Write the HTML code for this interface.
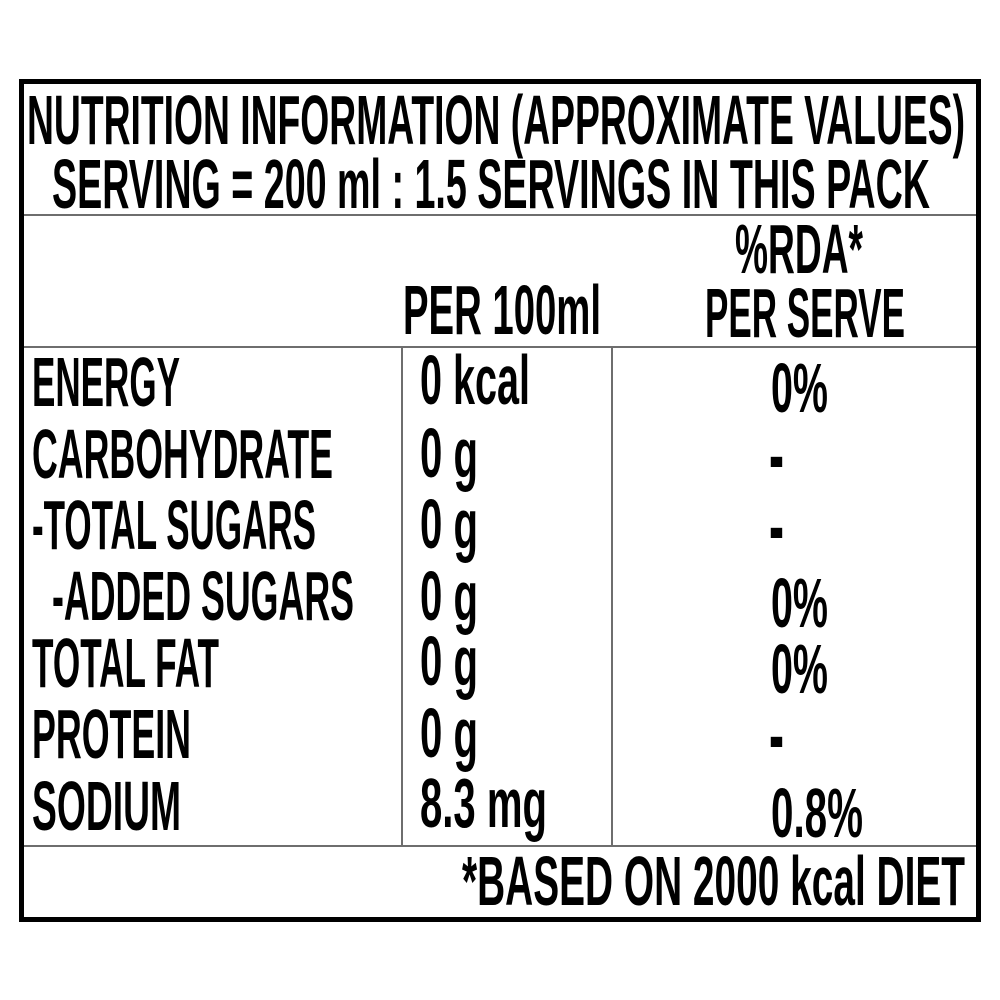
<!DOCTYPE html>
<html>
<head>
<meta charset="utf-8">
<style>
html,body{margin:0;padding:0;background:#fff;}
svg{display:block;}
text{font-family:"Liberation Sans Narrow","Liberation Sans",sans-serif;font-weight:bold;font-size:70px;fill:#000;}
text.h{font-size:85px;}
</style>
</head>
<body>
<svg width="1000" height="1000" viewBox="0 0 1000 1000" xmlns="http://www.w3.org/2000/svg">
<rect x="0" y="0" width="1000" height="1000" fill="#fff"/>
<g stroke="#6e6e6e" stroke-width="2" fill="none">
<line x1="24" y1="215" x2="976" y2="215"/>
<line x1="24" y1="347" x2="976" y2="347"/>
<line x1="24" y1="846" x2="976" y2="846"/>
<line x1="402" y1="347" x2="402" y2="846"/>
<line x1="612" y1="347" x2="612" y2="846"/>
</g>
<rect x="21.5" y="81.5" width="957" height="838" fill="none" stroke="#000" stroke-width="5"/>

<text x="27" y="144" textLength="938" lengthAdjust="spacingAndGlyphs">NUTRITION INFORMATION (APPROXIMATE VALUES)</text>
<text x="52" y="208" textLength="878" lengthAdjust="spacingAndGlyphs">SERVING = 200 ml : 1.5 SERVINGS IN THIS PACK</text>

<text x="735" y="273" textLength="128" lengthAdjust="spacingAndGlyphs">%RDA*</text>
<text x="403" y="334" textLength="198" lengthAdjust="spacingAndGlyphs">PER 100ml</text>
<text x="705" y="337" textLength="200" lengthAdjust="spacingAndGlyphs">PER SERVE</text>

<text x="32" y="406" textLength="148" lengthAdjust="spacingAndGlyphs">ENERGY</text>
<text x="32" y="478" textLength="301" lengthAdjust="spacingAndGlyphs">CARBOHYDRATE</text>
<text x="32" y="549" textLength="284" lengthAdjust="spacingAndGlyphs">-TOTAL SUGARS</text>
<text x="52" y="620" textLength="302" lengthAdjust="spacingAndGlyphs">-ADDED SUGARS</text>
<text x="32" y="687" textLength="187" lengthAdjust="spacingAndGlyphs">TOTAL FAT</text>
<text x="32" y="758" textLength="159" lengthAdjust="spacingAndGlyphs">PROTEIN</text>
<text x="32" y="830" textLength="149" lengthAdjust="spacingAndGlyphs">SODIUM</text>

<text x="420" y="404" textLength="110" lengthAdjust="spacingAndGlyphs">0 kcal</text>
<text x="420" y="477" textLength="58" lengthAdjust="spacingAndGlyphs">0 g</text>
<text x="420" y="548" textLength="58" lengthAdjust="spacingAndGlyphs">0 g</text>
<text x="420" y="620" textLength="58" lengthAdjust="spacingAndGlyphs">0 g</text>
<text x="420" y="685" textLength="58" lengthAdjust="spacingAndGlyphs">0 g</text>
<text x="420" y="757" textLength="58" lengthAdjust="spacingAndGlyphs">0 g</text>
<text x="420" y="827" textLength="127" lengthAdjust="spacingAndGlyphs">8.3 mg</text>

<text x="771" y="412" textLength="57" lengthAdjust="spacingAndGlyphs">0%</text>
<text class="h" x="769" y="484" textLength="15" lengthAdjust="spacingAndGlyphs">-</text>
<text class="h" x="769" y="555" textLength="15" lengthAdjust="spacingAndGlyphs">-</text>
<text x="771" y="627" textLength="57" lengthAdjust="spacingAndGlyphs">0%</text>
<text x="771" y="693" textLength="57" lengthAdjust="spacingAndGlyphs">0%</text>
<text class="h" x="769" y="764" textLength="15" lengthAdjust="spacingAndGlyphs">-</text>
<text x="771" y="837" textLength="92" lengthAdjust="spacingAndGlyphs">0.8%</text>

<text x="462" y="905" textLength="503" lengthAdjust="spacingAndGlyphs">*BASED ON 2000 kcal DIET</text>
</svg>
</body>
</html>
